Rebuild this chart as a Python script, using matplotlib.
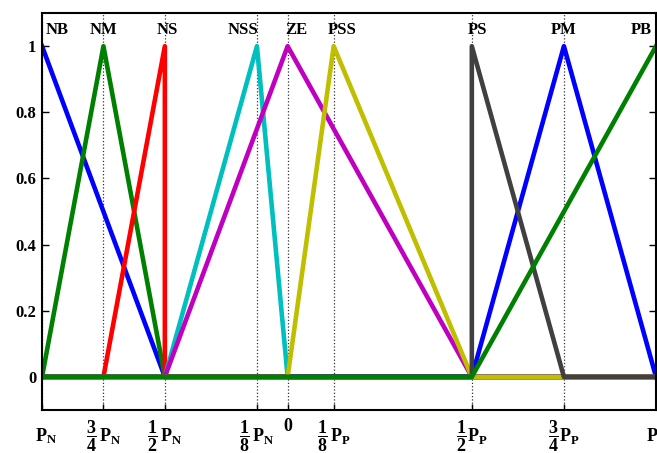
import numpy as np
import matplotlib
matplotlib.use('Agg')
import matplotlib.pyplot as plt
import matplotlib.transforms as mtransforms

plt.rcParams['font.family'] = ['Liberation Serif', 'DejaVu Serif']
plt.rcParams['font.weight'] = 'bold'
plt.rcParams['mathtext.fontset'] = 'custom'
plt.rcParams['mathtext.rm'] = 'Liberation Serif:bold'
plt.rcParams['mathtext.it'] = 'Liberation Serif:bold'
plt.rcParams['mathtext.bf'] = 'Liberation Serif:bold'

# Limites do universo de discurso
PN = -1.0
PP = 1.5

# Posicoes e rotulos do eixo x
tick_pos = [PN, 0.75 * PN, 0.5 * PN, 0.125 * PN, 0.0, 0.125 * PP, 0.5 * PP, 0.75 * PP, PP]
tick_labels = [r'$\mathrm{P}_{\mathrm{N}}$',
               r'$\dfrac{3}{4}\,\mathrm{P}_{\mathrm{N}}$',
               r'$\dfrac{1}{2}\,\mathrm{P}_{\mathrm{N}}$',
               r'$\dfrac{1}{8}\,\mathrm{P}_{\mathrm{N}}$',
               '0',
               r'$\dfrac{1}{8}\,\mathrm{P}_{\mathrm{P}}$',
               r'$\dfrac{1}{2}\mathrm{P}_{\mathrm{P}}$',
               r'$\dfrac{3}{4}\mathrm{P}_{\mathrm{P}}$',
               r'$\mathrm{P}_{\mathrm{P}}$']

# Funcoes de pertinencia (pontos de quebra)
nb_x = [PN, 0.5 * PN, PP]
nb_y = [1, 0, 0]
nm_x = [PN, 0.75 * PN, 0.5 * PN, PP]
nm_y = [0, 1, 0, 0]
ns_x = [PN, 0.75 * PN, 0.5 * PN, 0.5 * PN, PP]
ns_y = [0, 0, 1, 0, 0]
nss_x = [PN, 0.5 * PN, 0.125 * PN, 0.0, PP]
nss_y = [0, 0, 1, 0, 0]
ze_x = [PN, 0.5 * PN, 0.0, 0.5 * PP, PP]
ze_y = [0, 0, 1, 0, 0]
pss_x = [PN, 0.0, 0.125 * PP, 0.5 * PP, PP]
pss_y = [0, 0, 1, 0, 0]
ps_x = [PN, 0.5 * PP, 0.5 * PP, 0.75 * PP, PP]
ps_y = [0, 0, 1, 0, 0]
pm_x = [PN, 0.5 * PP, 0.75 * PP, PP]
pm_y = [0, 0, 1, 0]
pb_x = [PN, 0.5 * PP, PP]
pb_y = [0, 0, 1]

# Nomes dos conjuntos e posicoes
mf_names = ['NB', 'NM', 'NS', 'NSS', 'ZE', 'PSS', 'PS', 'PM', 'PB']
name_x = [PN + 0.015, 0.75 * PN, 0.5 * PN + 0.012, 0.125 * PN + 0.005, -0.008,
          0.125 * PP - 0.025, 0.5 * PP - 0.018, 0.75 * PP, PP - 0.015]
name_ha = ['left', 'center', 'center', 'right', 'left', 'left', 'left', 'center', 'right']

fig = plt.figure(figsize=(6.57, 4.53), dpi=100)
ax = fig.add_axes([0.064, 0.095, 0.9345, 0.876])

for xv in tick_pos:
    ax.axvline(xv, color='#333333', linestyle=':', linewidth=0.9, zorder=1)

lw = 3.3
ax.plot(nb_x, nb_y, color='#0000ff', lw=lw, zorder=2)
ax.plot(nm_x, nm_y, color='#008000', lw=lw, zorder=2)
ax.plot(ns_x, ns_y, color='#ff0000', lw=lw, zorder=2)
ax.plot(nss_x, nss_y, color='#00bfbf', lw=lw, zorder=2)
ax.plot(ze_x, ze_y, color='#bf00bf', lw=lw, zorder=2)
ax.plot(pm_x, pm_y, color='#0000ff', lw=lw, zorder=2)
ax.plot(pss_x, pss_y, color='#bfbf00', lw=lw, zorder=2)
ax.plot(ps_x, ps_y, color='#404040', lw=lw, zorder=2)
ax.plot(pb_x, pb_y, color='#008000', lw=lw, zorder=2)

for nome, xn, ha in zip(mf_names, name_x, name_ha):
    ax.text(xn, 1.05, nome, ha=ha, va='center', fontsize=12, fontweight='bold', zorder=3)

ax.set_xlim(PN, PP)
ax.set_ylim(-0.1, 1.1)
ax.set_yticks([0, 0.2, 0.4, 0.6, 0.8, 1.0])
ax.set_yticklabels(['0', '0.2', '0.4', '0.6', '0.8', '1'])
ax.set_xticks(tick_pos)
ax.set_xticklabels(tick_labels)
ax.tick_params(axis='y', direction='in', length=5, width=1, right=True, labelsize=12, pad=4)
ax.tick_params(axis='x', direction='in', length=4, width=1, top=False, labelsize=13, pad=6)

# rotulos P_N e P_P alinhados com os das fracoes
xlabs = ax.get_xticklabels()
for lab in xlabs:
    lab.set_verticalalignment('top')
desloca_esq = mtransforms.ScaledTranslation(0.04, -0.08, fig.dpi_scale_trans)
desloca_dir = mtransforms.ScaledTranslation(0.0, -0.08, fig.dpi_scale_trans)
xlabs[0].set_transform(xlabs[0].get_transform() + desloca_esq)
xlabs[-1].set_transform(xlabs[-1].get_transform() + desloca_dir)
for sp in ax.spines.values():
    sp.set_linewidth(1.5)

fig.savefig('out.png', dpi=100)
